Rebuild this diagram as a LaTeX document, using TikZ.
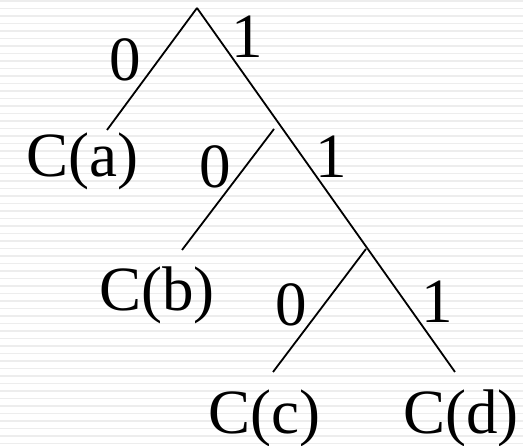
\documentclass[tikz,border=0pt]{standalone}
\usepackage{fontspec}
\setmainfont{Liberation Serif}
\usepackage{tikz}

\tikzset{
    bit/.style={inner sep=0pt, font=\fontsize{63}{70}\selectfont},
    leaf/.style={inner sep=0pt, font=\fontsize{63}{70}\selectfont},
    branch/.style={line width=1.8pt},
    stripe/.style={draw=black!7, line width=1.6pt}
}

\begin{document}
\begin{tikzpicture}[x=1pt, y=-1pt]
        \useasboundingbox (0,0) rectangle (523,446);
        \foreach \k in {0,...,59}
            \draw[stripe] (0,{1+7.5*\k}) -- (523,{1+7.5*\k});

        \coordinate (root) at (197,8);
        \coordinate (ea) at (107,130);
        \coordinate (sb) at (274,129);
        \coordinate (eb) at (182,250);
        \coordinate (sc) at (366,249);
        \coordinate (ec) at (273,372);
        \coordinate (ed) at (455,372);

        \node[leaf] (ca) at (82,161) {C(a)};
        \node[leaf] (cb) at (157,295) {C(b)};
        \node[leaf] (cc) at (264,418) {C(c)};
        \node[leaf] (cd) at (461,418) {C(d)};

        \node[bit] (za) at (125,60) {0};
        \node[bit] (oa) at (247,37) {1};
        \node[bit] (zb) at (215,167) {0};
        \node[bit] (ob) at (331,157) {1};
        \node[bit] (zc) at (291,305) {0};
        \node[bit] (oc) at (437,302) {1};

        \draw[branch] (root) -- (ea);
        \draw[branch] (root) -- (ed);
        \draw[branch] (sb) -- (eb);
        \draw[branch] (sc) -- (ec);
\end{tikzpicture}
\end{document}
